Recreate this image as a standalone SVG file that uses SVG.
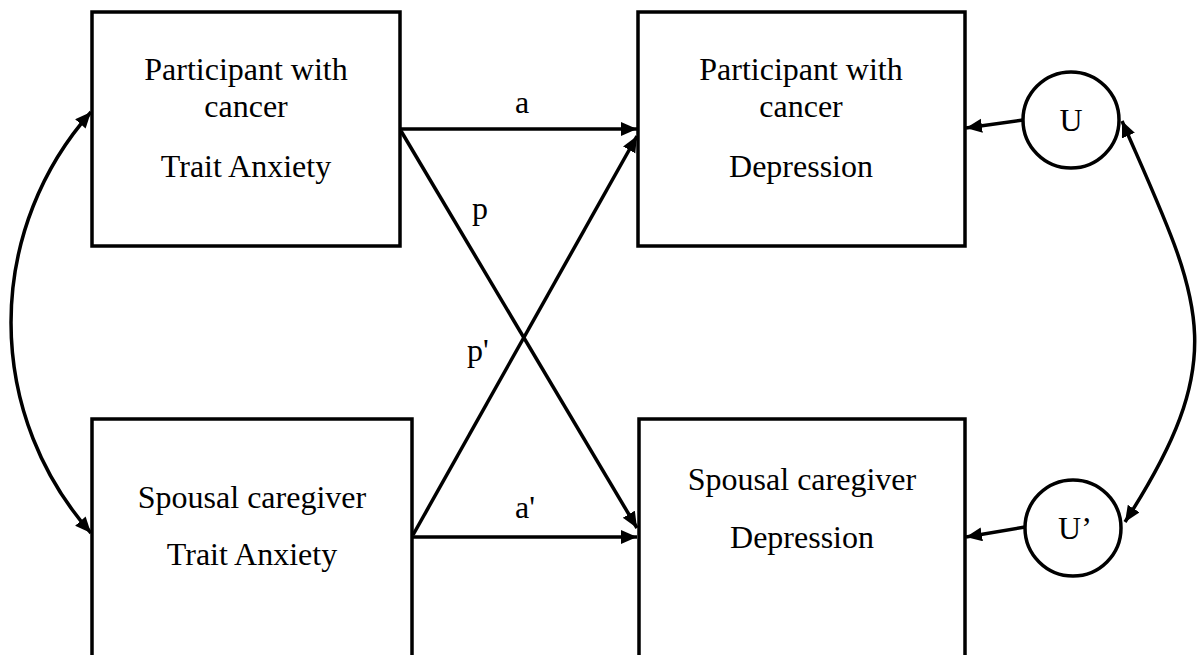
<svg xmlns="http://www.w3.org/2000/svg" width="1197" height="655" viewBox="0 0 1197 655">
<style>
.box{fill:#fff;stroke:#000;stroke-width:3.5}
.circ{fill:#fff;stroke:#000;stroke-width:3.5}
.t{font-family:"Liberation Serif","Times New Roman",serif;font-size:32px;fill:#000;text-anchor:middle}
.ln{fill:none;stroke:#000;stroke-width:3.5}
.arr{marker-end:url(#ah)}
.dbl{marker-end:url(#ah);marker-start:url(#ahs)}
</style>
<defs>
<marker id="ah" markerUnits="userSpaceOnUse" markerWidth="18" markerHeight="16" refX="16" refY="7" orient="auto">
<path d="M0,0 L16,7 L0,14 z" fill="#000"/>
</marker>
<marker id="ahs" markerUnits="userSpaceOnUse" markerWidth="18" markerHeight="16" refX="16" refY="7" orient="auto-start-reverse">
<path d="M0,0 L16,7 L0,14 z" fill="#000"/>
</marker>
</defs>
<rect width="1197" height="655" fill="#fff"/>
<g id="connectors">
<line class="ln arr" x1="400" y1="129" x2="637" y2="129"/>
<line class="ln arr" x1="401" y1="131" x2="637" y2="528"/>
<line class="ln arr" x1="413" y1="535" x2="637" y2="136"/>
<line class="ln arr" x1="412" y1="537" x2="637" y2="537"/>
<line class="ln arr" x1="1023" y1="120" x2="966" y2="128"/>
<line class="ln arr" x1="1025" y1="527" x2="966" y2="537"/>
<path class="ln dbl" d="M91,112 A317,317 0 0 0 91,533"/>
<path class="ln dbl" d="M1122,121 C1200,300 1235,352 1125,522"/>
<text class="t" x="522" y="113">a</text>
<text class="t" x="480" y="219">p</text>
<text class="t" x="478" y="361">p'</text>
<text class="t" x="525" y="518">a'</text>
</g>
<g id="n1">
<rect class="box" x="92" y="12" width="308" height="234"/>
<text class="t" x="246" y="80">Participant with</text>
<text class="t" x="246" y="117">cancer</text>
<text class="t" x="246" y="177">Trait Anxiety</text>
</g>
<g id="n2">
<rect class="box" x="638" y="12" width="327" height="234"/>
<text class="t" x="801" y="80">Participant with</text>
<text class="t" x="801" y="117">cancer</text>
<text class="t" x="801" y="177">Depression</text>
</g>
<g id="n3">
<rect class="box" x="92" y="419" width="320" height="245"/>
<text class="t" x="252" y="508">Spousal caregiver</text>
<text class="t" x="252" y="565">Trait Anxiety</text>
</g>
<g id="n4">
<rect class="box" x="639" y="419" width="326" height="245"/>
<text class="t" x="802" y="490">Spousal caregiver</text>
<text class="t" x="802" y="548">Depression</text>
</g>
<g id="u1">
<circle class="circ" cx="1071" cy="120" r="48"/>
<text class="t" x="1071" y="131">U</text>
</g>
<g id="u2">
<circle class="circ" cx="1073" cy="528" r="48"/>
<text class="t" x="1075" y="539">U’</text>
</g>
</svg>
